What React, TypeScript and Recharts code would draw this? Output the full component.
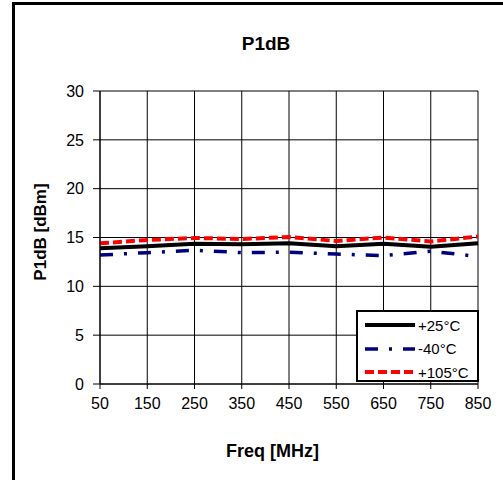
import { LineChart, Line, XAxis, YAxis, CartesianGrid } from 'recharts'

// P1dB vs frequency at three temperatures
const freqs = [50, 150, 250, 350, 450, 550, 650, 750, 850]
const p25 = [13.9, 14.1, 14.35, 14.3, 14.4, 14.1, 14.35, 14.05, 14.4]
const m40 = [13.2, 13.45, 13.7, 13.45, 13.5, 13.3, 13.15, 13.6, 13.05]
const p105 = [14.4, 14.75, 14.95, 14.85, 15.05, 14.65, 15.0, 14.6, 15.1]
const yTicks = [0, 5, 10, 15, 20, 25, 30]

const FONT = '"Liberation Sans", Arial, sans-serif'

const SERIES = [
  { key: 'p25', name: '+25°C', color: '#000000', width: 4, dash: undefined as string | undefined },
  { key: 'm40', name: '-40°C', color: '#000080', width: 3.5, dash: '13 11 3 11' },
  { key: 'p105', name: '+105°C', color: '#FF0000', width: 4, dash: '9 4' },
]

const data = freqs.map((f, i) => ({ freq: f, p25: p25[i], m40: m40[i], p105: p105[i] }))

// hand-drawn legend box, sits over the lower right of the plot like the original
function LegendBox() {
  return (
    <div style={{ position: 'absolute', left: 356, top: 310, width: 119, height: 68, border: '2px solid #000', background: '#fff', fontSize: 15 }}>
      {SERIES.map((s, i) => (
        <div key={s.key} style={{ position: 'absolute', left: 7, top: 3 + i * 23.5, height: 20, display: 'flex', alignItems: 'center' }}>
          <svg width={50} height={8} style={{ display: 'block' }}>
            <line x1={0} y1={4} x2={50} y2={4} stroke={s.color} strokeWidth={s.width} strokeDasharray={s.dash} />
          </svg>
          <span style={{ marginLeft: 3 }}>{s.name}</span>
        </div>
      ))}
    </div>
  )
}

export default function App() {
  return (
    <div style={{ position: 'fixed', left: 0, top: 0, width: 503, height: 480, overflow: 'hidden', background: '#fff', fontFamily: FONT }}>
      <div style={{ position: 'absolute', left: 12, top: 2, width: 600, height: 600, border: '3px solid #000' }} />
      <div style={{ position: 'absolute', left: 0, width: 532, top: 33, textAlign: 'center', fontWeight: 'bold', fontSize: 19 }}>P1dB</div>
      <div style={{ position: 'absolute', left: 0, width: 545, top: 441, textAlign: 'center', fontWeight: 'bold', fontSize: 18 }}>Freq [MHz]</div>
      <div style={{ position: 'absolute', left: 41, top: 232, transform: 'translate(-50%, -50%) rotate(-90deg)', whiteSpace: 'nowrap', fontWeight: 'bold', fontSize: 17 }}>P1dB [dBm]</div>
      <div style={{ position: 'absolute', left: 0, top: 0 }}>
        <LineChart width={503} height={480} data={data} margin={{ top: 91, right: 25, bottom: 66, left: 0 }}>
          <CartesianGrid stroke="#000" strokeWidth={1} />
          <XAxis
            dataKey="freq"
            type="number"
            domain={[50, 850]}
            ticks={freqs}
            height={30}
            tickSize={5}
            tickMargin={9}
            stroke="#000"
            tick={{ fill: '#000', fontSize: 16, fontFamily: FONT }}
          />
          <YAxis
            domain={[0, 30]}
            ticks={yTicks}
            width={100}
            tickSize={7}
            tickMargin={9}
            stroke="#000"
            tick={{ fill: '#000', fontSize: 16, fontFamily: FONT }}
          />
          {SERIES.map((s) => (
            <Line
              key={s.key}
              dataKey={s.key}
              name={s.name}
              stroke={s.color}
              strokeWidth={s.width}
              strokeDasharray={s.dash}
              type="linear"
              dot={false}
              isAnimationActive={false}
            />
          ))}
        </LineChart>
      </div>
      <LegendBox />
    </div>
  )
}
